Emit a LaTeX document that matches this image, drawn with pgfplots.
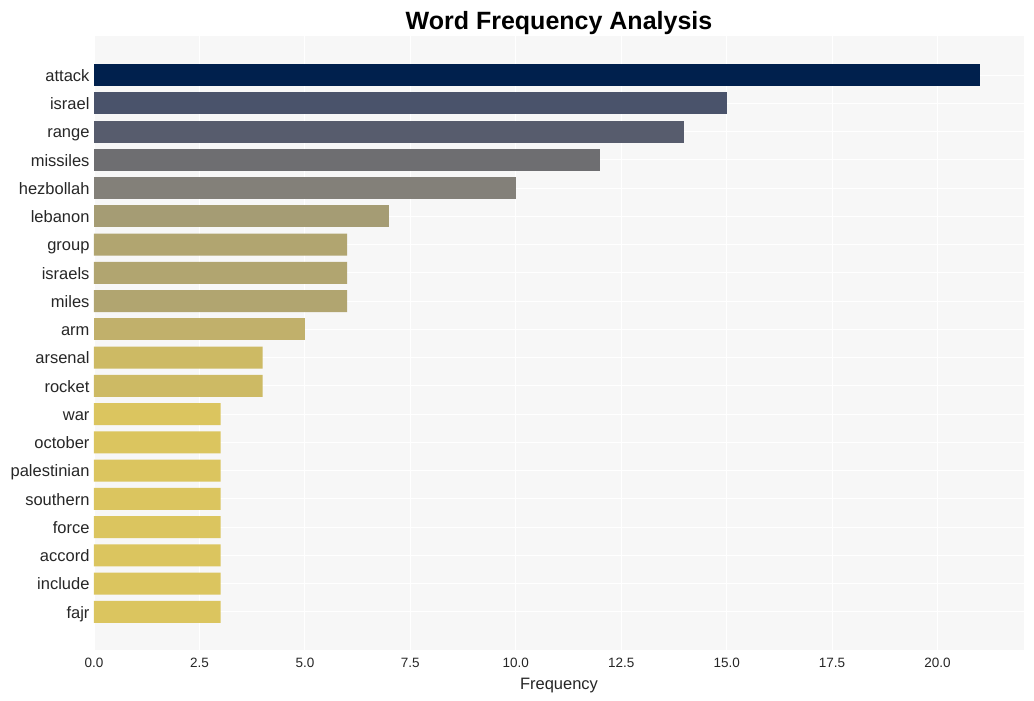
\documentclass[border=0pt]{standalone}
\usepackage{pgfplots}
\pgfplotsset{compat=1.18}
\usepackage{fontspec}
\setmainfont{Liberation Sans}
\definecolor{c1}{HTML}{00204D}
\definecolor{c2}{HTML}{4A536B}
\definecolor{c3}{HTML}{575C6D}
\definecolor{c4}{HTML}{6E6E71}
\definecolor{c5}{HTML}{838079}
\definecolor{c6}{HTML}{A59C74}
\definecolor{c7}{HTML}{B1A570}
\definecolor{c8}{HTML}{C1B06B}
\definecolor{c9}{HTML}{CDBA64}
\definecolor{c10}{HTML}{DBC55F}
\definecolor{bg}{HTML}{F7F7F7}
\definecolor{txt}{HTML}{262626}
\begin{document}
\begin{tikzpicture}
\useasboundingbox (-94bp,-51bp) rectangle (940bp,650bp);
\begin{axis}[
  scale only axis,
  width=930bp, height=614bp,
  xbar,
  bar width=22bp,
  xmin=0, xmax=22.05,
  ymin=-1.38, ymax=20.35,
  y dir=reverse,
  axis line style={draw=none},
  axis background/.style={fill=bg},
  grid=major,
  major grid style={white, line width=0.8bp},
  xtick={0,2.5,...,20},
  ytick={0,...,19},
  yticklabels={attack,israel,range,missiles,hezbollah,lebanon,group,israels,miles,arm,arsenal,rocket,war,october,palestinian,southern,force,accord,include,fajr},
  major tick length=0pt,
  tick style={draw=none},
  /pgf/number format/assume math mode=true,
  /pgf/number format/.cd, fixed, fixed zerofill, precision=1,
  /pgfplots/.cd,
  xticklabel style={font=\fontsize{13.5bp}{16bp}\selectfont, text=txt, yshift=-5bp},
  yticklabel style={font=\fontsize{16.5bp}{19bp}\selectfont, text=txt, xshift=-1bp, yshift=-2bp, anchor=east, text height=12bp, text depth=3.5bp},
  xlabel={Frequency},
  xlabel style={font=\fontsize{16.5bp}{19bp}\selectfont, text=txt, at={(0.5,0)}, anchor=center, yshift=-36bp},
  title={Word Frequency Analysis},
  title style={font=\fontsize{25bp}{29bp}\selectfont\bfseries, text=black, at={(0.5,1)}, anchor=base, yshift=1bp},
  clip=false,
]
\addplot[fill=c1, draw=none, bar shift=0pt] coordinates {(21,0)};
\addplot[fill=c2, draw=none, bar shift=0pt] coordinates {(15,1)};
\addplot[fill=c3, draw=none, bar shift=0pt] coordinates {(14,2)};
\addplot[fill=c4, draw=none, bar shift=0pt] coordinates {(12,3)};
\addplot[fill=c5, draw=none, bar shift=0pt] coordinates {(10,4)};
\addplot[fill=c6, draw=none, bar shift=0pt] coordinates {(7,5)};
\addplot[fill=c7, draw=none, bar shift=0pt] coordinates {(6,6) (6,7) (6,8)};
\addplot[fill=c8, draw=none, bar shift=0pt] coordinates {(5,9)};
\addplot[fill=c9, draw=none, bar shift=0pt] coordinates {(4,10) (4,11)};
\addplot[fill=c10, draw=none, bar shift=0pt] coordinates {(3,12) (3,13) (3,14) (3,15) (3,16) (3,17) (3,18) (3,19)};
\end{axis}
\end{tikzpicture}
\end{document}
